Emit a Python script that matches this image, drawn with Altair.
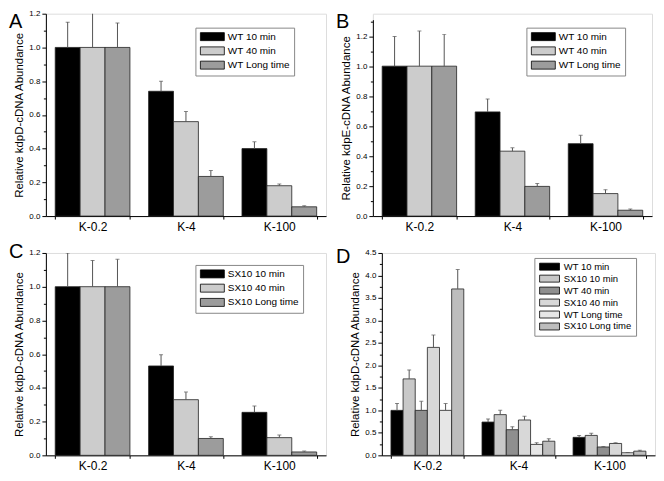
import altair as alt
import pandas as pd

FONT = "Liberation Sans"

groups = ["K-0.2", "K-4", "K-100"]

# Panel A (kdpD, WT)
series_A = ["WT 10 min", "WT 40 min", "WT Long time"]
vals_A = [[1.0, 0.74, 0.40], [1.0, 0.56, 0.18], [1.0, 0.235, 0.055]]
errs_A = [[0.15, 0.06, 0.04], [0.25, 0.06, 0.01], [0.145, 0.035, 0.006]]

# Panel B (kdpE, WT)
series_B = ["WT 10 min", "WT 40 min", "WT Long time"]
vals_B = [[1.0, 0.695, 0.483], [1.0, 0.433, 0.15], [1.0, 0.198, 0.039]]
errs_B = [[0.198, 0.086, 0.056], [0.234, 0.022, 0.026], [0.212, 0.019, 0.008]]

# Panel C (kdpD, SX10)
series_C = ["SX10 10 min", "SX10 40 min", "SX10 Long time"]
vals_C = [[1.0, 0.53, 0.255], [1.0, 0.33, 0.105], [1.0, 0.10, 0.02]]
errs_C = [[0.2, 0.067, 0.037], [0.156, 0.045, 0.015], [0.162, 0.01, 0.005]]

# Panel D (kdpD, WT vs SX10)
series_D = ["WT 10 min", "SX10 10 min", "WT 40 min", "SX10 40 min", "WT Long time", "SX10 Long time"]
vals_D = [[1.0, 0.74, 0.40], [1.70, 0.905, 0.443], [1.0, 0.57, 0.186],
          [2.40, 0.786, 0.264], [1.0, 0.243, 0.057], [3.70, 0.314, 0.093]]
errs_D = [[0.155, 0.07, 0.043], [0.20, 0.095, 0.047], [0.20, 0.066, 0.008],
          [0.275, 0.084, 0.015], [0.15, 0.037, 0.006], [0.43, 0.056, 0.021]]

colors3 = ["#000000", "#cccccc", "#9c9c9c"]
colors6 = ["#000000", "#c8c8c8", "#8f8f8f", "#d8d8d8", "#e6e6e6", "#bdbdbd"]


def make_df(series, vals, errs):
    rows = []
    for s, v, e in zip(series, vals, errs):
        for g, vi, ei in zip(groups, v, e):
            rows.append({"group": g, "series": s, "value": vi, "top": vi + ei})
    return pd.DataFrame(rows)


def panel(df, series, colors, ylabel, ymax, major, minor, width, height,
          letter, lx, ly, legx, legy, sym_path, sym_size, lab_off, lab_fs, row_pad,
          yrange=None):
    xenc = alt.X("group:N", sort=groups,
                 scale=alt.Scale(paddingInner=0.2, paddingOuter=0.1),
                 axis=alt.Axis(title=None, labelAngle=0, tickBand="extent", tickSize=3,
                               labelFontSize=12, labelPadding=2, labelFont=FONT,
                               domainColor="black", tickColor="black", labelColor="black"))
    xoff = alt.XOffset("series:N", sort=series)
    sc = dict(domain=[0, ymax], nice=False, zero=True)
    if yrange is not None:
        sc["range"] = yrange
    yscale = alt.Scale(**sc)
    major_axis = alt.Axis(values=major, format=".1f", tickSize=4, labelFontSize=8,
                          labelPadding=2, labelFont=FONT, title=ylabel, titleFontSize=11.5,
                          titleFont=FONT, titleFontWeight="normal", titlePadding=4,
                          titleColor="black", labelColor="black", grid=False,
                          domainColor="black", tickColor="black")
    minor_axis = alt.Axis(values=minor, labels=False, domain=False, tickSize=2.5,
                          title=None, grid=False, orient="left", tickColor="black")
    bars = alt.Chart(df).mark_bar(stroke="#222", strokeWidth=0.8).encode(
        x=xenc, xOffset=xoff,
        y=alt.Y("value:Q", scale=yscale, axis=major_axis),
        color=alt.Color("series:N", sort=series,
                        scale=alt.Scale(domain=series, range=colors),
                        legend=alt.Legend(orient="none", legendX=legx, legendY=legy,
                                          title=None, symbolType=sym_path,
                                          symbolSize=sym_size, symbolStrokeColor="black",
                                          symbolStrokeWidth=0.8, symbolOpacity=1,
                                          labelFontSize=lab_fs, labelFont=FONT,
                                          labelColor="black", labelOffset=lab_off,
                                          padding=4, rowPadding=row_pad,
                                          strokeColor="#888", fillColor="white")),
    )
    whisk = alt.Chart(df).mark_rule(color="#555", strokeWidth=1, clip=True).encode(
        x=xenc, xOffset=xoff,
        y=alt.Y("value:Q", scale=yscale, axis=minor_axis), y2="top:Q")
    caps = alt.Chart(df).mark_tick(color="#555", thickness=1, size=4, clip=True).encode(
        x=xenc, xOffset=xoff, y=alt.Y("top:Q", scale=yscale, axis=None))
    let = alt.Chart(pd.DataFrame({"t": [letter]})).mark_text(
        align="left", baseline="top", fontSize=20, font=FONT, color="black").encode(
        text="t:N", x=alt.value(lx), y=alt.value(ly))
    return alt.layer(bars, whisk, caps, let).resolve_axis(y="independent").properties(
        width=width, height=height)


maj12 = [0, 0.2, 0.4, 0.6, 0.8, 1.0, 1.2]
min12 = [0.1, 0.3, 0.5, 0.7, 0.9, 1.1]
min13 = [0.1, 0.3, 0.5, 0.7, 0.9, 1.1, 1.3]
maj45 = [0, 0.5, 1.0, 1.5, 2.0, 2.5, 3.0, 3.5, 4.0, 4.5]
min45 = [0.25, 0.75, 1.25, 1.75, 2.25, 2.75, 3.25, 3.75, 4.25]

path3 = "M-1,-1H5V1H-1Z"
path6 = "M-1,-1H4.7V1H-1Z"

H = 203
pA = panel(make_df(series_A, vals_A, errs_A), series_A, colors3,
           "Relative kdpD-cDNA Abundance", 1.2, maj12, min12, 281, H,
           "A", -37, -2, 150, 14, path3, 64, 18.5, 10, 2.3)
pB = panel(make_df(series_B, vals_B, errs_B), series_B, colors3,
           "Relative kdpE-cDNA Abundance", 1.31, maj12, min13, 280, H,
           "B", -37, -2, 154, 14, path3, 64, 18.5, 10, 2.3, yrange=[H, 6])
pC = panel(make_df(series_C, vals_C, errs_C), series_C, colors3,
           "Relative kdpD-cDNA Abundance", 1.2, maj12, min12, 281, H,
           "C", -37, -11, 150, 12, path3, 64, 18.5, 10, 2.3)
pD = panel(make_df(series_D, vals_D, errs_D), series_D, colors6,
           "Relative kdpD-cDNA Abundance", 4.5, maj45, min45, 274, H,
           "D", -46, -6, 153, 5, path6, 49, 16, 9.5, 1)

row1 = alt.hconcat(pA, pB, spacing=8).resolve_scale(
    color="independent", x="independent", y="independent", xOffset="independent"
).resolve_legend(color="independent")
row2 = alt.hconcat(pC, pD, spacing=8).resolve_scale(
    color="independent", x="independent", y="independent", xOffset="independent"
).resolve_legend(color="independent")

chart = alt.vconcat(row1, row2, spacing=8).resolve_scale(
    color="independent", x="independent", y="independent", xOffset="independent"
).resolve_legend(color="independent").properties(padding=0).configure_view(
    stroke=None).configure(font=FONT)

chart.save("out.html", embed_options={"renderer": "svg", "actions": False})
